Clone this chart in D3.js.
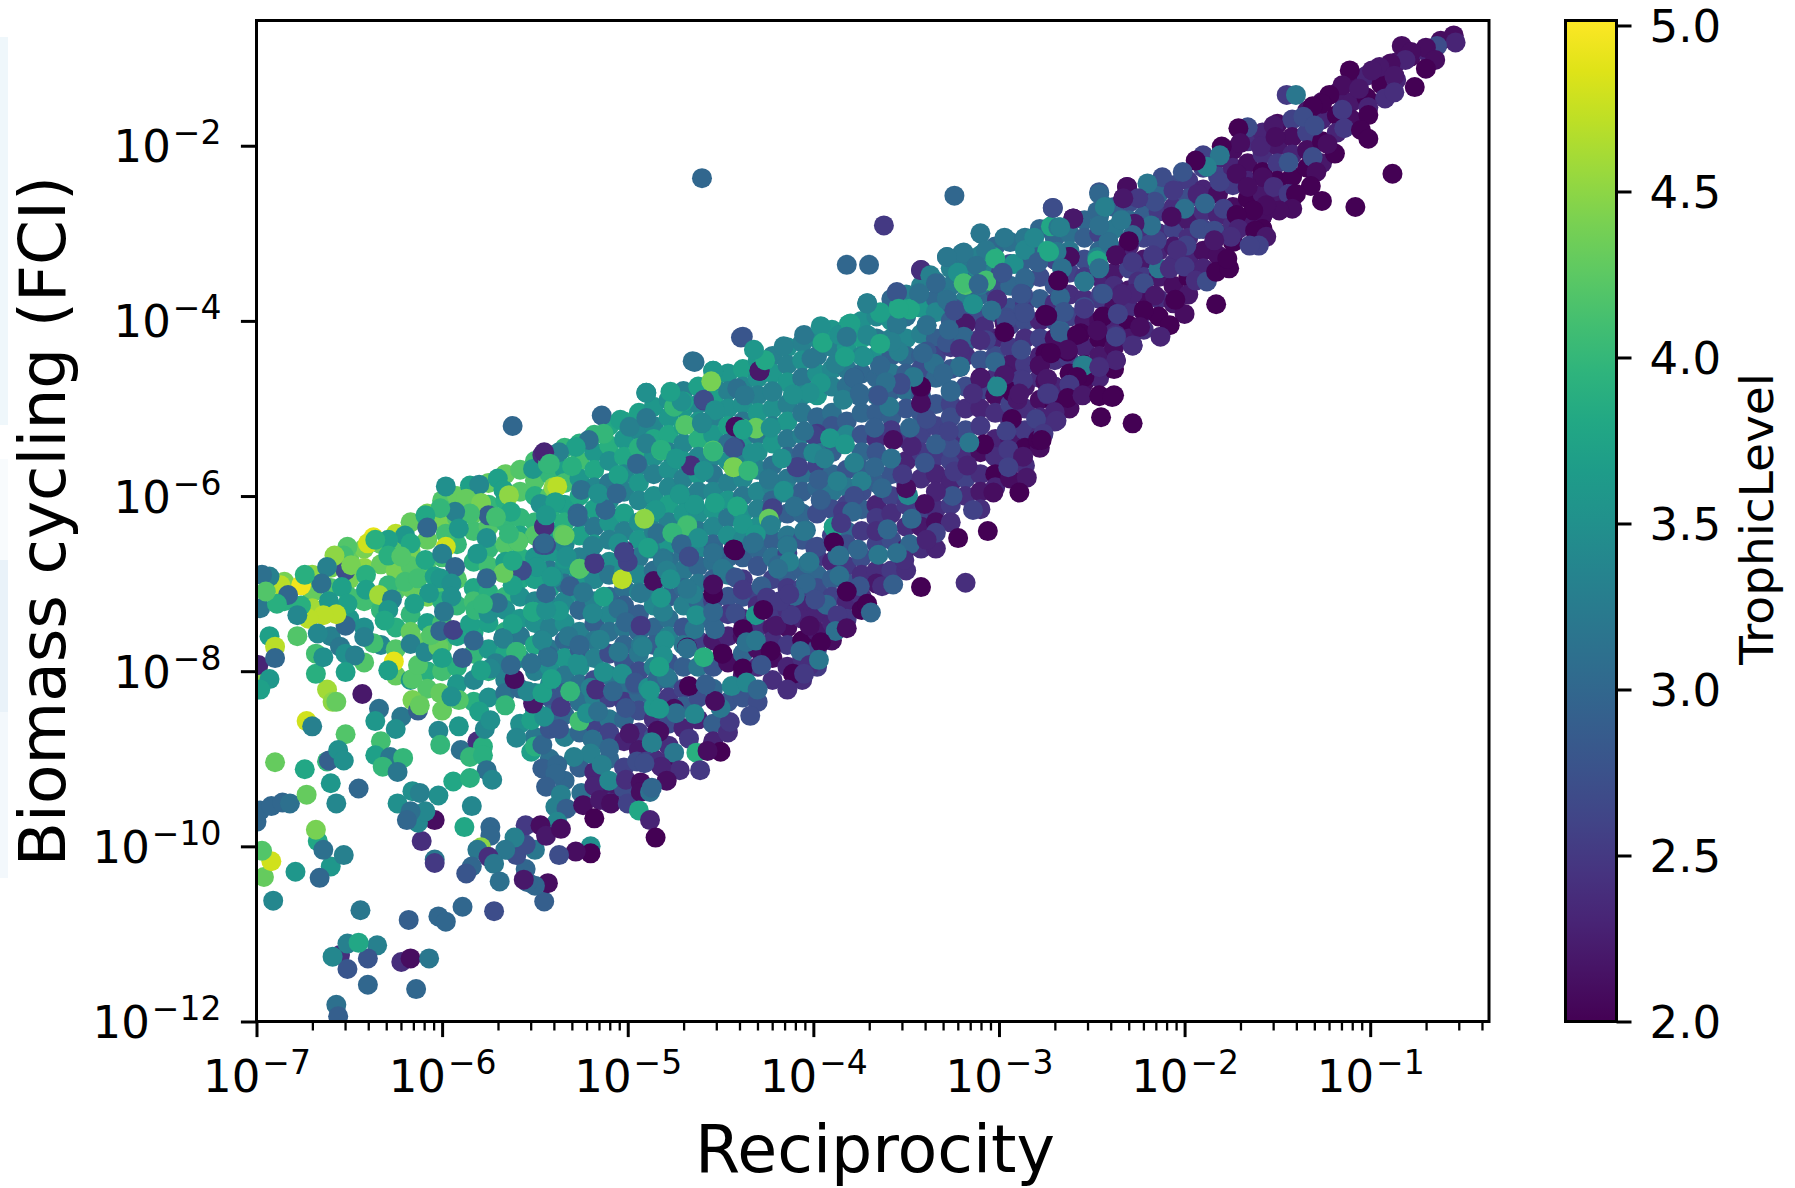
<!DOCTYPE html>
<html>
<head>
<meta charset="utf-8">
<title>Biomass cycling vs reciprocity</title>
<script src="https://cdnjs.cloudflare.com/ajax/libs/d3/7.8.5/d3.min.js"></script>
<style>
html, body { margin: 0; padding: 0; background: #fff; }
svg { display: block; }
text { font-family: "DejaVu Sans", sans-serif; fill: #000; }
</style>
</head>
<body>
<script>
// every point is [log10 reciprocity, log10 FCI, trophic level]
var lowerTail = [
[-6.57,-11.81,3.1],[-6.56,-11.94,2.9],[-6.40,-11.58,3.0],[-6.14,-11.63,3.0],[-6.55,-11.24,2.4],[-6.51,-11.40,2.8],[-6.59,-11.26,3.4],[-6.51,-11.11,3.3],[-6.35,-11.13,3.3],[-6.40,-11.28,2.8],[-6.45,-11.10,3.8],[-6.22,-11.32,2.4],[-6.17,-11.28,2.1],[-6.07,-11.28,3.2],
[-6.44,-10.73,3.2],[-6.18,-10.84,2.9],[-6.02,-10.80,3.0],[-5.98,-10.86,3.0],[-5.89,-10.69,3.0],[-5.72,-10.74,2.7],[-5.45,-10.63,2.9],[-6.91,-10.62,3.4],[-6.96,-10.35,4.3],[-6.92,-10.17,4.8],[-6.97,-10.05,4.2],[-6.79,-10.29,3.6],[-6.60,-10.23,3.6],[-6.66,-10.36,3.0],[-6.53,-10.10,3.3],[-6.67,-9.94,3.8],[-6.64,-10.04,3.1],[-6.68,-9.81,4.4],
[-7.00,-9.72,3.0],[-6.98,-9.59,3.0],[-6.92,-9.54,3.0],[-6.86,-9.50,3.0],[-6.82,-9.51,3.1],[-6.73,-9.41,4.3],[-6.57,-9.51,3.4],[-6.60,-9.28,3.6],[-6.45,-9.34,3.0],[-6.90,-9.04,4.3],[-6.74,-9.12,3.8],[-6.62,-9.03,4.0],[-6.61,-9.02,2.9],
[-6.43,-8.26,2.2],[-6.62,-8.21,4.6],[-6.59,-8.35,4.5],[-6.57,-8.35,4.3],[-6.34,-8.43,3.1],[-6.36,-8.57,3.6],[-6.22,-8.52,3.2],[-6.25,-8.66,3.5],[-6.73,-8.57,4.8],[-6.70,-8.63,3.3],[-6.52,-8.72,4.2],[-6.56,-8.90,3.5],[-6.53,-9.02,3.5],[-6.33,-8.80,4.1],[-6.36,-8.96,3.7],[-6.28,-8.98,3.2],[-6.21,-8.99,4.0],[-6.32,-9.09,4.0],[-6.24,-9.15,3.2],
[-6.16,-8.09,4.2],[-6.16,-8.33,4.4],[-6.13,-8.45,2.9],[-6.12,-8.39,4.3],[-6.01,-8.25,4.3],[-5.91,-8.33,4.2],[-5.95,-8.29,3.5],[-6.02,-8.68,3.4],[-6.01,-8.84,4.0],[-5.91,-8.63,3.6],[-5.90,-8.90,3.1],[-5.81,-8.80,2.4],[-5.78,-8.86,3.9],[-5.85,-8.98,4.0],[-5.78,-8.96,3.9],[-5.76,-9.13,3.1],[-5.94,-9.26,3.8],[-5.85,-9.22,3.9],[-5.73,-9.24,3.4],
[-5.80,-8.46,3.7],[-5.77,-8.66,3.4],[-5.66,-8.39,4.0],[-5.74,-8.56,3.5],[-5.60,-8.76,3.4],[-5.52,-8.56,3.7],[-5.52,-8.92,3.7],[-5.50,-8.86,3.9],[-5.46,-8.84,3.0],[-5.42,-8.66,2.8],[-5.37,-8.66,2.8],[-5.45,-8.52,3.5],[-5.36,-8.41,2.5],[-5.51,-8.37,2.2],[-5.54,-8.23,3.4],[-5.46,-8.25,3.7],[-5.61,-8.09,2.1],[-5.41,-8.09,3.7],[-5.31,-8.23,4.0],[-5.26,-8.57,4.1],[-5.22,-8.48,3.5],[-5.16,-8.46,3.1],[-5.20,-8.19,3.3],[-5.17,-8.21,2.4],[-5.08,-8.23,3.0],[-5.01,-8.42,2.8],[-4.96,-8.15,2.9],[-4.99,-8.71,2.2],[-4.84,-8.68,2.1],[-4.87,-8.82,3.3],
[-5.19,-8.78,3.1],[-5.10,-8.88,3.0],[-5.20,-8.94,3.3],[-5.14,-9.07,3.3],[-5.29,-8.98,3.3],[-5.46,-9.11,2.9],[-5.38,-9.07,3.0],[-5.39,-9.17,3.0],[-5.44,-9.32,2.9],[-5.36,-9.41,3.3],[-5.39,-9.55,3.3],[-5.33,-9.57,2.9],[-5.38,-9.72,3.4],[-5.25,-9.39,3.1],[-5.18,-9.31,2.3],[-5.24,-9.53,2.1],[-5.15,-9.47,2.2],[-5.09,-9.51,2.1],[-5.18,-9.68,2.0],[-5.10,-9.25,3.4],[-5.00,-9.51,2.6],[-5.01,-9.24,2.4],[-4.93,-9.27,2.1],[-4.93,-9.38,2.1],[-4.88,-9.38,3.1],[-4.94,-9.59,3.8],[-4.88,-9.70,2.3],[-4.85,-9.90,2.0],[-4.95,-9.03,2.7],[-4.90,-9.03,2.6],[-4.84,-9.03,2.4],
[-5.20,-10.00,3.5],[-5.20,-10.08,2.0],[-5.28,-10.06,2.1],[-5.37,-10.10,2.7],[-5.43,-10.42,2.1],[-5.50,-10.45,3.0],[-5.54,-10.41,3.0],[-5.55,-10.26,3.0],[-5.56,-10.38,2.2],[-5.50,-10.04,3.2],[-5.60,-10.10,2.7],[-5.55,-9.98,2.7],[-5.55,-9.76,2.5],[-5.47,-9.76,2.1],[-5.44,-9.88,2.2],[-5.36,-9.80,2.1],[-5.61,-9.90,3.3],[-5.66,-10.04,3.2],[-5.74,-9.78,3.0],[-5.74,-9.88,3.0],[-5.79,-10.01,4.5],[-5.81,-10.04,3.2],[-5.75,-10.12,2.4],[-5.72,-10.20,3.2],[-5.69,-10.40,3.1],[-5.84,-10.23,3.0],[-5.87,-10.31,2.8],[-5.88,-9.78,3.8],[-5.84,-9.54,3.4],[-6.02,-9.42,3.5],[-6.04,-9.70,2.1],[-6.11,-9.94,2.4],[-6.04,-10.15,3.2],[-6.04,-10.19,2.5],[-6.13,-9.73,3.4],[-6.09,-9.60,3.4],[-6.16,-9.37,3.5],[-6.12,-9.39,3.3],[-6.24,-9.51,3.5],[-6.17,-9.60,3.1],[-6.19,-9.70,3.0],
[-5.03,-6.95,4.7],[-5.18,-6.77,2.3],[-5.27,-6.20,3.0],[-5.12,-6.15,3.1],[-5.35,-6.44,4.2],[-5.45,-6.34,2.4],[-5.46,-6.56,2.8],[-5.59,-6.52,4.0],[-5.49,-6.81,3.5],[-5.26,-6.83,4.1],[-5.34,-6.72,3.6],[-5.40,-6.93,3.4],[-5.31,-7.03,2.9],[-5.24,-7.10,3.2],[-5.13,-7.15,3.7],[-5.19,-7.34,3.4],[-5.05,-7.29,3.1],[-5.01,-7.44,3.0],[-4.93,-7.48,2.5],[-5.05,-7.78,3.2],[-4.93,-7.70,3.2],[-5.02,-6.62,2.4],[-5.00,-6.75,2.6],[-4.93,-7.11,3.2],[-4.86,-6.97,2.1],[-5.13,-8.01,3.5],[-5.03,-8.03,3.5],[-4.96,-8.13,2.8],[-4.89,-8.19,3.5],[-5.27,-7.91,3.5],[-5.43,-7.82,3.0],[-5.52,-7.91,3.1],[-5.60,-7.78,4.1],[-5.67,-7.62,3.1],[-5.46,-7.64,3.3],[-5.51,-7.32,3.9],[-5.32,-7.60,3.2],[-5.26,-7.70,3.0],[-5.15,-7.64,3.3],[-5.37,-7.31,3.6],[-5.71,-7.91,3.3],[-5.74,-7.97,3.4],[-4.86,-8.41,3.6],[-4.84,-8.09,3.0]
];
var upperLeft = [
[-6.99,-8.01,4.5],[-6.99,-7.93,2.3],[-6.93,-8.09,3.6],[-6.98,-8.21,3.7],
[-5.98,-5.89,3.5],[-5.85,-5.88,3.7],[-5.80,-5.87,3.4],[-5.70,-5.80,3.7],[-5.67,-5.93,3.7],[-5.64,-5.99,4.5],[-5.87,-6.03,4.3],[-5.79,-6.08,4.4],[-5.51,-5.69,3.6],[-5.46,-5.53,2.4],[-5.43,-5.63,4.0],[-5.40,-5.90,4.5],[-5.47,-6.09,3.5],[-5.39,-6.07,3.5],[-5.44,-6.22,3.7],[-5.45,-6.35,2.4],[-5.44,-6.56,2.7],[-5.63,-6.18,3.8],[-5.75,-6.22,2.9],[-5.71,-6.24,4.1],[-5.85,-6.20,4.1],[-5.93,-6.18,3.3],[-6.01,-6.14,4.0],[-6.09,-6.22,3.8],[-6.08,-6.36,3.0],[-5.98,-6.43,4.1],[-5.91,-6.37,3.6],
[-6.37,-6.47,4.9],[-6.40,-6.54,4.8],[-6.25,-6.43,4.7],[-6.20,-6.45,3.6],[-6.17,-6.54,3.8],[-6.29,-6.50,3.7],[-6.36,-6.50,3.9],[-6.29,-6.68,3.9],[-6.22,-6.69,4.2],[-6.51,-6.58,4.2],[-6.53,-6.68,4.1],[-6.52,-6.85,2.7],[-6.49,-6.79,4.4],[-6.58,-6.68,4.5],[-6.62,-6.81,3.3],[-6.65,-7.00,3.1],[-6.76,-7.02,4.95],[-6.74,-6.90,3.9],[-6.54,-7.04,3.7],[-6.41,-6.90,3.9],[-6.41,-7.07,3.7],[-6.29,-7.02,4.0],[-6.20,-6.98,4.1],[-6.13,-6.94,4.1],[-6.09,-6.73,3.8],[-6.04,-6.92,3.7],[-5.98,-6.58,4.8],[-6.00,-6.66,3.3],[-5.93,-6.81,3.0],[-6.01,-6.94,3.6],[-5.95,-7.00,3.5],[-6.07,-7.11,3.6],[-5.95,-7.15,3.5],[-6.15,-7.23,3.7],[-6.34,-7.13,4.6],[-6.27,-7.18,3.3],[-6.29,-7.30,3.6],[-6.31,-7.42,3.8],[-6.51,-7.23,3.7],[-6.61,-7.20,3.6],[-6.52,-7.48,3.0],[-6.57,-7.35,4.7],[-6.64,-7.36,4.7],[-6.72,-7.40,4.7],[-6.76,-7.25,3.9],[-6.78,-7.36,3.4],[-6.67,-7.57,3.4],[-6.78,-7.60,4.2],[-6.93,-7.60,3.7],[-6.90,-7.72,4.7],[-6.90,-7.85,3.0],[-6.87,-7.02,4.7],[-6.93,-6.92,3.3],[-6.97,-6.90,3.1],[-6.98,-7.28,3.2],[-6.83,-7.13,3.0],[-6.89,-7.23,3.9],[-6.95,-7.09,4.2],
[-6.68,-8.03,3.9],[-6.68,-7.80,4.1],[-6.64,-7.84,3.5],[-6.55,-7.72,3.2],[-6.52,-7.80,3.5],[-6.47,-7.82,3.3],[-6.52,-8.01,3.7],[-6.37,-7.68,4.1],[-6.42,-7.61,3.3],[-6.17,-7.69,3.3],[-6.26,-7.89,4.9],[-6.29,-7.99,3.7],[-6.13,-7.93,4.2],[-6.09,-7.78,3.4],[-6.02,-7.72,4.3],[-6.06,-7.59,4.2],[-6.00,-7.85,3.7],[-6.01,-7.54,3.0],[-5.94,-7.53,2.6],[-5.99,-7.32,3.2],[-5.85,-7.46,3.7],[-5.82,-7.30,4.0],[-5.75,-7.34,3.5],[-5.70,-7.22,3.1],[-5.62,-7.46,3.7],[-5.67,-7.63,3.3],[-5.83,-7.65,3.0],[-5.60,-7.78,4.0],[-5.51,-7.32,3.8],[-5.44,-7.30,3.5],[-5.44,-7.11,3.0],[-5.49,-6.81,3.6],[-5.57,-6.85,2.7],[-5.62,-7.02,3.7],[-5.67,-6.88,4.3],[-5.62,-6.74,3.8],[-5.59,-6.52,4.2],[-5.64,-6.43,4.0],[-5.76,-6.48,3.5],[-5.81,-6.66,3.6],[-5.76,-6.94,3.0],[-5.78,-7.23,4.0],[-5.46,-7.65,3.4],[-5.43,-7.84,3.1],[-5.52,-7.91,3.1],[-5.63,-7.93,3.0],[-5.79,-7.99,3.7],[-5.89,-7.85,2.9],[-5.41,-6.92,3.6]
];
var midUpper = [
[-5.62,-5.20,3.0],[-4.60,-2.37,3.0],
[-4.64,-4.47,3.1],[-4.39,-4.19,2.8],[-4.54,-4.57,3.6],[-4.90,-4.82,3.5],[-5.14,-5.08,3.0],[-5.13,-5.29,4.0],[-5.21,-5.36,3.1],[-5.28,-5.44,3.7],[-5.37,-5.50,3.3],[-5.45,-5.50,2.3],[-5.42,-5.63,4.0],[-5.30,-5.66,3.9],[-5.04,-5.13,3.7],[-4.99,-5.21,3.3],[-4.90,-5.11,3.2],[-4.90,-5.40,3.3],[-4.75,-4.98,4.0],[-4.70,-4.92,3.7],[-4.59,-4.91,2.6],[-4.69,-5.19,4.2],[-4.60,-5.17,3.4],[-4.82,-5.48,4.0],[-4.95,-5.63,3.0],[-4.74,-5.57,3.5],[-4.66,-5.65,2.4],[-4.54,-5.48,4.2],[-4.42,-5.44,2.6],[-4.31,-5.22,4.3],[-4.38,-5.23,3.9],[-4.42,-5.21,2.1],[-4.29,-4.57,2.2],[-4.43,-5.67,4.5],[-4.35,-5.70,3.7],[-4.08,-5.67,2.6],[-3.98,-5.29,2.5],[-3.98,-5.51,3.2],[-4.24,-5.80,3.2],[-4.16,-5.96,3.3],[-4.41,-6.12,3.6],[-4.53,-6.08,3.6],[-4.64,-6.10,3.6],[-4.72,-5.97,3.4],[-4.85,-6.16,3.5],[-5.05,-5.76,3.7],[-5.12,-6.16,3.0],[-5.25,-5.93,3.1],[-5.16,-5.97,3.5],[-5.06,-5.97,3.0],[-5.38,-5.89,4.7],[-5.39,-6.07,3.7],[-5.44,-6.22,3.6],[-5.27,-6.24,3.0],[-5.34,-6.45,4.3],[-5.45,-6.54,3.0],[-5.05,-6.54,3.5],[-5.19,-6.57,3.3],[-5.33,-6.69,3.5],[-5.26,-6.83,4.2],[-5.18,-6.77,2.5],[-5.02,-6.64,2.6],[-4.88,-6.60,3.3],[-4.84,-6.43,3.1],[-4.74,-6.43,4.1],[-4.68,-6.33,4.0],[-4.62,-6.48,3.3],[-4.71,-6.55,3.0],[-4.67,-6.69,2.7],[-4.81,-6.71,3.2],[-4.53,-6.64,3.0],[-4.42,-6.62,2.0],[-4.33,-6.54,3.1],[-4.23,-6.33,3.4],[-4.22,-6.14,2.6],[-4.10,-6.12,3.1],[-4.14,-6.56,3.1],[-4.04,-6.39,3.1],[-3.96,-6.05,2.8],[-3.89,-6.54,2.0],[-3.98,-6.58,2.7],[-3.89,-6.35,3.5],[-3.87,-6.68,3.0],[-4.03,-6.77,3.1],[-4.19,-6.79,3.0]
];
var midBand = [
[-3.82,-3.36,3.0],[-3.70,-3.36,3.0],[-4.38,-4.18,2.8],[-4.65,-4.46,3.1],[-4.54,-4.57,3.6],[-4.29,-4.57,2.2],[-4.26,-4.45,3.8],[-4.32,-4.33,3.6],[-4.16,-4.29,3.3],[-4.05,-4.16,3.2],[-3.96,-4.06,3.5],[-3.95,-4.25,3.8],[-3.81,-4.04,3.7],[-3.86,-4.16,3.5],[-3.71,-3.80,3.3],[-3.64,-3.91,3.7],[-3.54,-3.84,3.8],[-3.48,-3.86,3.8],[-3.55,-3.67,2.8],[-3.55,-4.04,3.2],[-3.39,-4.05,3.2],[-3.42,-3.42,2.4],[-3.37,-3.49,3.3],[-3.43,-3.68,3.2],[-3.28,-3.27,3.1],[-3.20,-3.23,3.2],[-3.03,-3.27,3.8],[-3.22,-3.45,3.5],[-3.12,-3.39,3.4],[-3.18,-3.59,4.2],[-3.07,-3.55,4.1],[-3.10,-3.59,3.2],[-3.28,-3.74,3.2],[-3.14,-3.81,3.4],[-3.24,-3.86,2.8],[-2.99,-3.45,2.7],[-2.92,-3.35,3.5],[-2.79,-3.33,3.2],[-2.86,-3.51,3.0],[-3.01,-3.76,2.4],[-2.87,-3.70,2.7],[-2.97,-4.02,2.2],[-2.96,-3.96,2.7],[-2.87,-3.90,2.7],[-2.75,-3.94,2.0],[-3.08,-4.06,2.4],[-3.18,-4.04,2.4],[-3.19,-4.18,2.9],[-3.07,-4.22,2.6],[-3.39,-4.35,2.8],[-3.28,-4.25,2.8],[-3.35,-4.49,3.2],[-3.21,-4.53,2.9],[-3.26,-4.79,3.0],[-3.10,-4.65,2.1],[-2.97,-4.61,2.2],[-2.88,-4.67,2.5],[-3.01,-4.74,3.2],[-2.78,-4.51,2.1],[-2.72,-4.37,2.0],[-2.75,-4.69,2.1],[-2.93,-4.81,2.0],[-2.90,-4.90,2.2],[-2.74,-4.84,2.3],[-2.80,-5.12,2.6],[-2.93,-5.12,2.0],[-2.96,-5.26,2.6],[-3.08,-5.41,2.0],[-2.79,-5.36,2.0],[-2.95,-5.47,2.5],[-2.87,-5.55,2.2],[-2.95,-5.67,2.6],[-2.85,-5.79,2.2],[-2.89,-5.96,2.0],[-3.03,-5.96,2.1],[-3.14,-6.16,2.6],[-3.06,-6.40,2.0],[-3.22,-6.48,2.0],[-3.18,-6.99,2.4],[-3.42,-7.04,2.0],
[-3.25,-6.00,2.8],[-3.34,-5.95,2.3],[-3.40,-6.09,2.1],[-3.49,-5.99,3.4],[-3.63,-5.91,3.0],[-3.50,-5.91,2.1],[-3.52,-5.75,2.5],[-3.40,-5.62,2.8],[-3.24,-5.72,2.5],[-3.17,-5.65,2.3],[-3.26,-5.45,2.7],[-3.34,-5.41,2.9],[-3.16,-5.39,3.2],[-3.27,-5.26,2.6],[-3.47,-5.43,2.3],[-3.57,-5.36,2.1],[-3.48,-5.22,3.0],[-3.67,-5.22,2.9],[-3.59,-4.98,3.2],[-3.39,-5.12,2.7],[-3.42,-4.77,2.1],[-3.42,-4.94,2.1],[-3.53,-4.73,2.7],[-3.46,-4.65,3.2],[-3.78,-4.65,2.8],[-3.75,-4.86,3.0],[-3.84,-4.90,3.3],[-3.61,-4.71,3.1],[-3.64,-4.51,3.1],[-3.73,-4.41,3.4],[-3.88,-4.49,3.3],[-4.01,-4.43,3.2],[-3.96,-4.71,3.6],[-4.02,-4.82,3.5],[-4.11,-4.84,3.5],[-4.22,-4.81,3.3],[-4.41,-4.77,3.1],[-4.59,-4.90,2.7],[-4.71,-4.92,3.5],[-4.55,-4.69,4.4],[-4.77,-4.81,3.7],[-4.90,-4.82,3.5],[-4.37,-4.85,3.2],[-4.53,-5.02,3.5],[-4.60,-5.16,3.4],
[-4.31,-5.23,4.3],[-4.41,-5.21,2.1],[-4.38,-5.24,3.7],[-4.23,-5.22,3.5],[-4.00,-5.30,2.6],[-3.91,-5.34,3.6],[-3.83,-5.41,3.6],[-4.05,-5.26,3.1],[-4.43,-5.45,2.8],[-4.54,-5.49,4.0],[-4.33,-5.51,3.5],[-4.82,-5.47,3.9],[-4.74,-5.57,3.6],[-4.59,-5.71,3.5],[-4.43,-5.67,4.4],[-4.35,-5.71,4.0],[-4.24,-5.81,3.2],[-4.16,-5.94,3.5],[-4.09,-5.67,2.6],[-4.17,-5.57,3.5],[-4.00,-5.51,3.4],[-3.94,-5.57,3.3],[-3.78,-5.62,3.3],[-3.97,-5.81,2.9],[-3.87,-5.83,3.3],[-3.74,-5.83,3.3],[-3.67,-5.67,3.0],[-3.58,-5.57,3.1],[-3.78,-6.00,2.7],[-4.10,-6.12,3.1],[-3.96,-6.04,2.9],[-3.84,-6.18,2.5],[-3.79,-6.18,3.0],[-4.22,-6.15,2.6],[-4.24,-6.26,4.3],[-4.23,-6.33,3.3],[-4.41,-6.12,3.8],[-4.38,-6.32,3.6],[-4.53,-6.08,3.7],[-4.64,-6.10,3.6],[-4.72,-5.98,3.6],[-4.85,-6.16,3.6],[-4.91,-6.26,4.5],[-4.68,-6.34,4.1],[-4.76,-6.42,4.0],[-4.62,-6.48,3.5],[-4.71,-6.55,3.0],[-4.31,-6.44,3.6],[-4.32,-6.53,3.1],[-4.43,-6.61,2.0],[-4.54,-6.65,3.1],[-4.67,-6.69,2.7],[-4.89,-6.59,3.7],[-4.81,-6.73,3.2],[-4.79,-6.85,3.3],[-4.49,-6.83,3.2],[-4.42,-6.93,2.8],
[-4.14,-6.57,3.2],[-4.05,-6.40,3.2],[-3.89,-6.36,3.7],[-3.85,-6.31,2.5],[-3.99,-6.59,2.7],[-3.89,-6.53,2.0],[-3.86,-6.68,3.1],[-4.02,-6.75,3.2],[-4.13,-6.75,3.3],[-4.19,-6.83,3.1],[-3.76,-6.61,3.0],[-3.66,-6.40,2.4],[-3.60,-6.38,3.0],[-3.65,-6.67,3.2],[-3.47,-6.26,3.0],[-3.48,-6.55,3.0],[-3.34,-6.42,2.6],[-3.39,-6.50,2.3],[-3.51,-6.73,2.4],[-3.55,-6.65,3.1],[-3.75,-7.03,2.8],[-3.63,-7.03,2.4],[-3.57,-7.01,2.9],[-3.86,-6.91,3.1],[-3.93,-7.24,3.0],[-4.04,-7.00,3.0],[-4.10,-7.14,3.0],[-3.99,-7.18,2.7],[-3.82,-7.09,2.0],[-3.87,-7.36,2.5],[-3.88,-7.54,3.1],[-3.82,-7.51,2.1],[-3.71,-7.23,2.0],[-3.69,-7.33,3.0],
[-4.20,-7.48,2.2],[-4.12,-7.36,2.5],[-4.02,-7.48,2.1],[-3.96,-7.67,2.0],[-4.07,-7.77,3.0],[-4.02,-7.93,2.4],[-3.97,-7.87,3.2],[-4.11,-8.03,2.0],[-4.05,-8.03,2.5],[-4.14,-8.21,2.4],[-4.38,-7.07,2.5],[-4.28,-7.03,2.9],[-4.25,-7.16,2.5],[-4.18,-7.20,2.5],[-4.13,-7.12,2.5],[-4.31,-7.36,3.6],[-4.27,-7.30,2.0],[-4.42,-7.34,2.7],[-4.38,-7.52,2.0],[-4.36,-7.67,3.1],[-4.31,-7.65,3.2],[-4.49,-7.80,2.0],[-4.23,-7.77,2.0],[-4.38,-7.97,2.0],[-4.28,-7.93,2.8],[-4.44,-8.17,3.4],[-4.36,-8.13,3.4],[-4.30,-8.21,3.0],[-4.34,-8.51,2.7],[-4.45,-8.58,2.5],[-4.50,-8.42,3.2],[-4.53,-8.34,2.1],[-4.53,-7.52,3.0],[-4.64,-7.52,3.2],[-4.63,-7.36,3.5],[-4.54,-7.32,3.0],[-4.54,-7.12,2.0],[-4.54,-7.01,2.1],[-4.65,-7.12,3.3],[-4.68,-7.06,3.2],[-4.77,-6.95,3.5],[-4.81,-7.32,3.3],[-4.82,-7.16,3.6],[-4.68,-7.73,2.1],[-4.68,-7.74,3.1],[-4.59,-7.84,3.9],[-4.80,-7.65,3.5],[-4.81,-7.82,3.5],[-4.92,-7.72,3.3],[-4.79,-8.07,3.2],[-4.83,-7.95,3.7],[-4.67,-8.17,2.0],[-4.58,-8.15,2.9],[-4.75,-8.43,2.1],[-4.74,-8.48,3.1],[-4.64,-8.49,3.4],[-4.83,-8.43,3.6],[-4.88,-8.22,3.6],[-4.83,-8.69,2.1],[-4.67,-8.77,2.5],[-4.87,-8.81,3.3],[-4.75,-8.93,3.2],[-4.63,-8.93,3.9],[-4.50,-8.92,2.0],[-4.57,-8.91,2.1],[-4.72,-9.13,2.4],[-4.61,-9.13,2.5],[-4.82,-9.09,2.3],[-4.91,-9.05,2.7],[-4.79,-9.25,2.1],[-4.87,-9.33,3.0]
];
var upperMid = [
[-3.24,-2.57,3.0],[-3.62,-2.91,2.5],[-2.71,-2.71,2.7],[-2.60,-2.83,2.2],[-2.72,-2.92,3.8],[-2.68,-2.93,3.2],[-2.46,-2.53,2.8],[-2.31,-2.47,2.2],[-2.33,-2.60,2.2],[-2.43,-2.69,3.2],[-2.47,-2.75,3.0],[-2.34,-2.84,3.0],[-2.41,-3.10,3.1],[-2.30,-3.10,2.2],[-2.37,-3.25,2.0],[-2.46,-3.38,3.0],[-2.47,-3.27,3.3],[-2.24,-2.93,2.4],
[-3.10,-3.00,3.2],[-2.97,-3.05,3.2],[-3.07,-3.19,3.2],[-3.02,-3.29,3.9],[-3.19,-3.22,3.2],[-3.28,-3.27,3.2],[-3.42,-3.42,2.4],[-3.22,-3.45,3.5],[-3.12,-3.37,3.1],[-3.07,-3.54,4.1],[-3.19,-3.57,4.1],[-3.11,-3.58,3.0],[-2.98,-3.45,2.8],[-3.37,-3.48,3.3],[-3.34,-3.57,3.0],[-2.86,-3.19,3.4],[-2.81,-3.05,3.4],[-2.74,-3.20,3.8],[-2.69,-3.21,3.0],[-2.62,-3.27,2.0],[-2.79,-3.33,2.9],[-2.66,-3.39,3.0],[-2.68,-3.54,2.0],[-2.54,-3.55,2.9],[-2.88,-3.69,2.8],[-3.01,-3.76,2.4],[-3.14,-3.81,3.5],[-3.28,-3.76,3.1],[-3.43,-3.69,3.1],[-3.55,-3.68,2.8],[-2.67,-3.73,3.0],[-2.45,-3.69,2.6],[-2.34,-3.69,2.3],[-2.25,-3.55,2.4],[-2.54,-3.84,2.7],[-2.75,-3.93,2.0],[-2.65,-3.90,2.7],[-2.86,-3.91,2.7],[-2.96,-3.99,2.7],[-3.04,-3.88,3.1],[-3.18,-4.03,2.2],[-3.24,-3.88,2.7],[-3.39,-4.05,3.1],[-3.55,-4.03,3.2],[-3.64,-3.90,3.7],[-3.48,-3.87,3.8],[-3.54,-3.86,3.8],[-3.80,-4.03,3.7],[-3.71,-3.80,3.3],[-2.97,-4.13,2.0],[-2.67,-4.11,3.0],[-2.36,-3.92,2.6],[-2.28,-3.69,2.3],[-2.44,-3.95,2.0],[-2.56,-4.14,2.0],[-2.37,-4.16,2.4],[-2.28,-4.28,2.3],[-2.75,-4.37,2.0],[-2.63,-4.35,2.0],[-2.88,-4.33,2.7],[-3.02,-4.47,3.0],[-3.19,-4.18,3.0],[-3.10,-4.22,2.4],[-3.27,-4.10,3.0],[-3.21,-4.32,2.4],[-3.35,-4.49,3.1],[-3.21,-4.52,3.1],[-3.41,-4.37,3.0],[-3.54,-4.35,3.3],[-3.58,-4.24,3.3],[-3.64,-4.51,3.0],[-3.71,-4.16,3.4],[-3.82,-4.18,3.2],[-3.64,-4.26,3.8],[-3.73,-4.41,3.5],[-3.83,-4.41,3.7],
[-2.55,-4.51,3.2],[-2.37,-4.45,2.1],[-2.46,-4.52,2.3],[-2.78,-4.51,2.1],[-2.97,-4.62,2.2],[-2.87,-4.68,2.5],[-3.10,-4.66,2.2],[-2.74,-4.66,2.2],[-2.62,-4.73,2.5],[-2.54,-4.64,2.0],[-3.30,-4.60,3.0],[-3.42,-4.75,2.0],[-3.46,-4.64,3.2],[-3.53,-4.71,2.7],[-3.61,-4.70,3.1],[-3.78,-4.65,3.0],[-3.26,-4.81,3.0],[-3.01,-4.75,3.4],[-3.14,-4.83,2.4],[-2.74,-4.83,2.5],[-2.89,-4.83,2.2],[-2.46,-4.85,2.0],[-2.38,-4.85,2.0],[-3.75,-4.83,3.0],[-3.65,-4.85,2.8]
];
var topRight = [
[-0.55,-0.74,2.1],[-0.54,-0.82,2.3],[-0.64,-0.86,2.7],[-0.70,-0.88,2.1],[-0.83,-0.86,2.1],[-0.78,-0.93,2.1],[-0.65,-1.02,2.1],[-0.70,-1.12,2.0],[-0.76,-1.33,2.0],[-0.81,-1.02,2.3],[-0.89,-1.06,2.1],[-0.95,-1.10,2.2],[-0.99,-1.14,2.2],[-0.87,-1.20,2.2],[-0.92,-1.46,2.4],[-0.87,-1.39,2.4],[-1.11,-1.14,2.0],[-1.15,-1.31,2.1],[-1.06,-1.35,2.2],[-1.01,-1.56,2.3],[-1.01,-1.65,2.0],[-1.15,-1.59,2.5],[-1.22,-1.42,2.0],[-1.26,-1.52,2.0],[-1.31,-1.55,2.0],[-1.36,-1.67,2.7],[-1.30,-1.77,2.7],[-1.14,-1.80,2.5],[-1.05,-1.82,2.0],[-1.01,-1.92,2.0],[-1.45,-1.42,2.5],[-1.40,-1.42,3.2],[-1.19,-2.09,2.0],[-1.31,-2.13,2.7],[-1.44,-2.19,2.8],[-1.23,-1.98,2.1],[-1.29,-2.30,2.1],[-1.32,-2.46,2.0],[-1.26,-2.63,2.0],[-1.08,-2.70,2.0],[-0.88,-2.32,2.0],[-1.52,-1.77,2.2],[-1.66,-1.79,2.7],[-1.71,-1.80,2.0],[-1.70,-1.97,2.1],[-1.59,-2.01,2.3],[-1.51,-1.90,2.1],[-1.80,-2.01,2.0],[-1.90,-2.11,2.6],[-1.81,-2.11,3.2],[-1.88,-2.24,3.3],[-1.94,-2.17,2.0],[-2.01,-2.30,2.8],[-2.12,-2.36,2.7],[-2.20,-2.43,3.2],[-2.31,-2.47,2.1],[-2.46,-2.55,3.0],[-2.43,-2.70,3.3],[-2.71,-2.71,2.7],[-2.60,-2.83,2.2],
[-1.81,-2.41,2.6],[-1.72,-2.32,2.1],[-1.58,-2.36,2.1],[-1.52,-2.47,2.4],[-1.44,-2.55,2.5],[-1.40,-2.55,2.0],[-1.42,-2.72,2.1],[-1.49,-2.74,2.1],[-1.56,-2.68,2.1],[-1.63,-2.74,2.0],[-1.66,-2.47,2.1],[-1.79,-2.72,2.6],[-1.72,-2.79,2.0],[-1.93,-2.55,2.3],[-2.06,-2.51,2.5],[-1.89,-2.66,3.0],[-2.00,-2.72,3.1],[-2.07,-2.81,2.1],[-2.16,-2.64,2.7],[-2.25,-2.60,2.5],[-2.33,-2.60,2.2],[-1.92,-2.95,2.7],[-1.84,-2.97,2.7],[-1.71,-2.95,2.3],[-1.62,-2.97,2.0],[-1.56,-3.04,2.2],[-1.60,-3.14,2.6],[-1.65,-3.14,2.6],[-1.75,-3.04,2.4],[-1.84,-3.08,2.2],[-1.99,-3.14,2.6],[-2.04,-3.19,2.4],[-2.15,-3.08,2.6],[-2.18,-2.91,3.1],[-2.27,-2.89,2.2],[-2.28,-3.02,3.0],[-2.34,-2.85,3.2],[-2.41,-3.10,3.1],[-2.30,-3.09,2.0],[-2.46,-2.91,3.1],[-2.37,-3.25,2.1],[-2.47,-3.31,3.8],[-2.46,-3.40,3.1],[-2.62,-3.27,2.1],[-2.67,-2.93,3.3],[-2.69,-3.21,3.2],[-2.73,-3.21,3.8],[-2.66,-3.40,3.1],[-2.54,-3.55,3.2],[-2.68,-3.54,2.0],[-2.14,-3.40,3.2],[-2.22,-3.57,2.7],[-2.17,-3.25,2.5],[-2.28,-3.33,2.5],[-2.08,-3.40,2.4],[-2.00,-3.38,2.5],[-1.94,-3.54,2.4],[-1.88,-3.55,2.7],[-1.83,-3.44,2.0],[-1.76,-3.40,2.0],[-1.77,-3.29,2.0],[-1.83,-3.81,2.0],[-2.00,-3.92,2.1],[-2.05,-3.76,2.0],[-2.16,-3.71,2.2],[-2.34,-3.71,2.3],[-2.44,-3.69,2.8],[-2.22,-3.88,2.0],[-2.36,-3.92,2.6],[-2.54,-3.86,2.5],[-2.65,-3.90,2.8],[-2.74,-3.94,2.0],[-2.08,-4.05,2.0],[-2.13,-4.18,2.3],[-2.24,-4.07,2.1],[-2.28,-4.28,2.4],[-2.37,-4.18,2.6],[-2.47,-4.11,2.1],[-2.67,-4.13,2.9],[-2.58,-4.16,2.0],[-2.37,-4.45,2.3],[-2.54,-4.51,3.3],[-2.63,-4.33,2.1],[-2.72,-4.37,2.0],[-2.46,-4.53,2.4],[-2.58,-4.64,2.0],[-2.62,-4.73,2.5],[-2.73,-4.83,2.5],[-2.63,-4.88,2.0],[-2.55,-4.85,2.2],[-2.46,-4.86,2.0],[-2.39,-4.87,2.0],[-2.45,-5.10,2.0],[-2.28,-5.17,2.0],[-2.70,-5.04,2.3],[-2.69,-5.14,2.4],[-2.76,-5.29,2.5],[-2.77,-5.36,2.0]
];

// the packed body of the cloud, column by column: [log10 reciprocity, [log10 FCI, trophic level, ...]]
var packedLeft = [
[-6.85,[-6.98,4.4,-7.2,3.9]],
[-6.7,[-6.9,4.5,-7.1,4.3,-7.28,4.6]],
[-6.6,[-6.82,4.4,-7.05,4.2,-7.3,3.9,-7.6,3.3]],
[-6.5,[-6.72,4.3,-6.95,4.4,-7.15,4.1,-7.4,3.6]],
[-6.42,[-6.6,4.4,-6.82,4.5,-7.2,4.1,-7.5,3.5,-7.9,4.2]],
[-6.33,[-6.55,4.3,-6.78,4.3,-7.3,4.0,-7.7,3.4]],
[-6.25,[-6.5,4.2,-6.85,4.4,-7.08,4.2,-7.5,3.9,-7.75,4.2,-8.05,4.3]],
[-6.17,[-6.3,4.3,-6.62,4.4,-6.8,4.2,-7.05,4.3,-7.35,4.0,-7.55,4.3,-8.1,3.6]],
[-6.08,[-6.2,4.4,-6.5,4.3,-6.85,4.2,-7.15,4.4,-7.45,3.7,-7.65,4.3,-8.0,3.9,-8.2,4.2]],
[-6.0,[-6.05,4.2,-6.3,4.4,-6.7,4.1,-7.05,4.2,-7.2,3.9,-7.45,4.1,-7.7,4.2,-8.0,4.1,-8.45,4.3]],
[-5.92,[-6.0,4.3,-6.25,4.2,-6.55,4.0,-6.95,4.2,-7.25,4.0,-7.6,3.7,-7.95,3.9,-8.15,3.6]],
[-5.83,[-5.95,4.2,-6.2,4.3,-6.4,4.1,-6.75,3.9,-7.05,3.8,-7.2,4.1,-7.55,3.8,-7.8,4.0,-8.1,3.4,-8.35,3.9]],
[-5.75,[-5.85,4.3,-6.1,4.0,-6.35,4.2,-6.6,4.0,-6.8,4.1,-7.1,3.9,-7.45,3.7,-7.75,3.6,-8.0,3.9,-8.3,3.5]],
[-5.66,[-5.75,4.3,-6.05,3.9,-6.3,4.0,-6.55,4.2,-6.75,3.7,-7.15,4.0,-7.3,3.5,-7.55,3.9,-7.8,3.8,-8.1,3.3,-8.25,3.1]],
[-5.58,[-5.7,4.2,-5.95,4.2,-6.25,4.0,-6.45,3.8,-6.7,3.9,-6.95,3.8,-7.15,3.5,-7.4,3.6,-7.6,3.2,-7.85,3.5,-8.2,3.0,-8.6,3.5]],
[-5.5,[-5.6,4.1,-5.82,4.2,-6.0,3.9,-6.3,4.0,-6.45,4.2,-6.7,3.6,-6.95,3.7,-7.2,3.4,-7.45,3.5,-7.7,3.8,-8.0,3.3,-8.25,3.4,-8.45,3.5,-8.75,3.2]],
[-5.42,[-5.55,4.2,-5.75,4.0,-6.0,4.2,-6.2,3.9,-6.4,3.7,-6.65,3.6,-6.85,3.2,-7.05,3.7,-7.25,3.4,-7.5,3.3,-7.75,3.2,-7.95,3.5,-8.15,3.4,-8.3,2.8,-8.5,3.0,-9.0,3.1]],
[-5.34,[-5.45,4.0,-5.7,3.7,-5.85,4.1,-6.1,3.7,-6.3,3.9,-6.55,3.4,-6.8,3.5,-7.0,3.1,-7.2,3.4,-7.45,3.5,-7.65,3.0,-7.85,3.6,-8.05,3.2,-8.25,2.8,-8.5,3.0,-8.75,3.3,-9.25,3.0]],
[-5.26,[-5.4,3.9,-5.6,4.1,-5.8,3.6,-6.0,3.8,-6.25,3.4,-6.45,3.7,-6.7,3.3,-6.9,3.6,-7.1,3.5,-7.3,3.0,-7.55,3.3,-7.75,2.9,-7.95,3.5,-8.15,3.1,-8.35,3.1,-8.7,3.0,-9.1,2.9]],
[-5.18,[-5.3,4.0,-5.5,3.6,-5.7,3.8,-5.9,3.4,-6.15,3.7,-6.35,3.2,-6.55,3.6,-6.75,3.0,-6.95,3.4,-7.2,3.3,-7.45,2.9,-7.65,3.2,-7.85,3.3,-8.1,2.7,-8.3,3.3,-8.6,2.6,-8.8,3.2,-9.15,2.3]],
[-5.1,[-5.2,3.8,-5.42,3.9,-5.6,3.5,-5.85,3.2,-6.05,3.5,-6.3,3.6,-6.5,3.3,-6.75,3.5,-6.9,3.2,-7.15,3.0,-7.35,3.4,-7.55,3.1,-7.8,2.7,-8.05,3.2,-8.3,2.6,-8.55,3.2,-8.7,2.6,-9.0,3.0,-9.35,2.2,-9.5,2.4]],
[-5.02,[-5.15,3.9,-5.35,3.6,-5.55,3.8,-5.75,3.4,-5.95,3.3,-6.2,3.7,-6.4,3.3,-6.65,3.2,-6.85,3.5,-7.05,3.1,-7.25,2.9,-7.5,3.2,-7.7,3.0,-7.9,2.8,-8.15,3.1,-8.35,2.5,-8.55,3.0,-8.8,2.3,-9.1,2.6,-9.35,2.7]]
];
var packedMiddle = [
[-4.94,[-5.05,3.7,-5.25,3.4,-5.45,3.9,-5.65,3.3,-5.85,3.6,-6.05,3.4,-6.3,3.5,-6.5,3.6,-6.7,3.2,-6.9,3.4,-7.1,3.3,-7.35,2.9,-7.55,3.0,-7.8,3.2,-8.0,2.7,-8.25,3.0,-8.45,2.7,-8.7,2.5,-8.9,2.2]],
[-4.86,[-4.98,3.6,-5.2,3.4,-5.35,3.8,-5.55,3.5,-5.75,3.3,-6.0,3.5,-6.2,3.6,-6.4,3.3,-6.6,3.5,-6.85,3.1,-7.05,3.3,-7.25,3.4,-7.5,3.0,-7.7,2.9,-7.95,3.3,-8.15,2.6,-8.35,3.1,-8.55,2.4,-8.75,2.8,-9.0,2.3]],
[-4.78,[-4.9,3.5,-5.1,3.6,-5.3,3.8,-5.5,3.3,-5.7,3.5,-5.9,3.4,-6.1,3.7,-6.3,3.3,-6.55,3.6,-6.75,3.1,-6.95,3.4,-7.15,2.9,-7.4,3.1,-7.6,3.3,-7.9,2.8,-8.1,3.0,-8.3,2.5,-8.6,2.7,-8.85,2.4,-9.05,2.1]],
[-4.70,[-4.8,3.3,-5.0,3.6,-5.2,3.7,-5.4,3.4,-5.6,3.6,-5.8,3.3,-6.0,3.5,-6.2,3.6,-6.4,3.4,-6.65,3.1,-6.85,3.2,-7.05,3.0,-7.25,3.3,-7.5,2.8,-7.7,3.2,-7.95,2.9,-8.2,2.6,-8.4,2.9,-8.65,2.3]],
[-4.62,[-4.75,3.7,-4.95,3.4,-5.15,3.6,-5.35,3.9,-5.55,3.4,-5.75,3.6,-5.95,3.3,-6.2,3.5,-6.4,3.2,-6.6,3.4,-6.8,3.0,-7.0,3.2,-7.2,3.0,-7.4,3.1,-7.65,2.6,-7.95,3.2,-8.3,2.7,-8.55,2.3]],
[-4.54,[-4.7,3.5,-4.9,3.7,-5.1,3.3,-5.3,3.6,-5.55,3.4,-5.75,3.2,-5.95,3.4,-6.15,3.6,-6.35,3.4,-6.55,3.0,-6.75,3.1,-6.95,2.9,-7.2,2.6,-7.45,3.0,-7.65,2.2,-7.95,2.8,-8.2,3.0,-8.6,2.9,-8.8,2.3]],
[-4.46,[-4.6,3.6,-4.8,3.3,-5.0,3.5,-5.2,3.7,-5.4,3.1,-5.6,3.5,-5.85,3.3,-6.05,3.6,-6.25,3.2,-6.45,3.5,-6.7,3.0,-6.9,3.2,-7.15,2.8,-7.35,2.5,-7.6,2.3,-7.9,2.1,-8.35,2.8,-8.7,2.4]],
[-4.38,[-4.55,3.7,-4.75,3.4,-4.95,3.5,-5.15,3.2,-5.35,3.6,-5.6,3.3,-5.8,3.4,-6.0,3.2,-6.2,3.5,-6.5,3.4,-6.7,2.9,-6.95,2.5,-7.15,2.8,-7.4,2.4,-7.6,2.1,-7.8,3.0,-8.05,2.2,-8.3,2.8]],
[-4.30,[-4.45,3.6,-4.65,3.5,-4.85,3.3,-5.05,3.6,-5.3,3.2,-5.5,3.5,-5.7,3.3,-5.95,3.4,-6.15,3.3,-6.35,3.5,-6.6,3.0,-6.8,2.8,-7.1,2.6,-7.25,2.4,-7.5,2.4,-7.75,2.1,-7.95,2.4,-8.35,2.7]],
[-4.22,[-4.4,3.3,-4.6,3.6,-4.8,3.4,-5.0,3.5,-5.2,3.3,-5.4,3.6,-5.65,3.1,-5.9,3.3,-6.05,3.0,-6.25,3.2,-6.5,2.9,-6.7,3.1,-6.95,2.6,-7.3,2.5,-7.5,2.2,-7.65,2.4,-7.85,2.1,-8.1,2.4]],
[-4.14,[-4.3,3.5,-4.5,3.3,-4.7,3.6,-4.95,3.3,-5.15,3.6,-5.35,3.2,-5.55,3.0,-5.8,3.2,-5.95,3.3,-6.2,2.9,-6.45,3.2,-6.65,2.6,-6.9,2.9,-7.05,2.5,-7.3,2.4,-7.5,2.1,-7.7,2.5,-7.95,2.3]],
[-4.06,[-4.25,3.3,-4.45,3.5,-4.65,3.2,-4.85,3.4,-5.05,3.2,-5.3,3.3,-5.5,2.9,-5.75,3.1,-5.95,2.9,-6.2,3.0,-6.5,2.8,-6.85,2.9,-7.05,2.6,-7.25,2.3,-7.4,2.3,-7.65,2.0,-7.85,2.4,-8.1,2.4]],
[-3.98,[-4.2,3.4,-4.4,3.2,-4.6,3.5,-4.85,3.6,-5.1,3.0,-5.45,3.3,-5.65,2.6,-5.9,3.0,-6.2,2.7,-6.7,2.5,-6.9,3.0,-7.05,2.7,-7.35,2.3,-7.55,2.2,-7.75,2.7,-7.95,2.5]],
[-3.9,[-4.1,3.6,-4.3,3.3,-4.55,3.4,-4.75,3.3,-5.05,3.1,-5.2,2.8,-5.5,2.9,-5.75,3.0,-5.95,3.2,-6.15,2.7,-6.45,2.6,-6.75,2.3,-6.95,2.9,-7.15,2.6,-7.45,2.3,-7.65,2.1]],
[-3.82,[-4.1,3.3,-4.3,3.6,-4.55,3.2,-4.75,3.1,-5.15,2.9,-5.3,3.4,-5.7,2.8,-5.9,3.2,-6.1,2.6,-6.4,3.0,-6.55,2.7,-6.8,2.5,-7.0,2.8,-7.2,2.3,-7.4,2.5]],
[-3.74,[-4.0,3.5,-4.2,3.7,-4.4,3.4,-4.6,3.0,-5.05,3.0,-5.3,2.8,-5.5,3.0,-5.7,2.9,-5.95,2.7,-6.15,2.9,-6.4,2.5,-6.7,2.7,-6.9,2.4,-7.15,2.4,-7.3,2.0]],
[-3.66,[-3.95,3.4,-4.2,3.2,-4.4,3.5,-4.65,3.0,-4.85,3.1,-5.05,2.9,-5.35,2.4,-5.5,2.8,-5.85,2.9,-6.1,2.3,-6.25,2.5,-6.55,2.6,-6.85,2.4,-7.0,2.2]],
[-3.58,[-3.75,3.0,-4.0,3.5,-4.2,3.3,-4.4,2.9,-4.6,3.2,-4.8,2.9,-5.1,2.9,-5.25,2.5,-5.75,2.8,-6.0,2.6,-6.2,2.4,-6.5,2.7,-6.85,2.5]],
[-3.5,[-3.7,3.3,-3.95,3.1,-4.2,3.4,-4.4,3.0,-4.6,2.9,-4.8,3.1,-5.0,2.8,-5.35,2.5,-5.6,2.3,-5.85,2.7,-6.1,2.5,-6.35,2.4,-6.6,2.2,-6.85,2.4]],
[-3.42,[-3.6,3.3,-3.85,3.6,-4.15,3.3,-4.4,2.9,-4.55,2.7,-4.85,2.9,-5.05,2.8,-5.3,2.6,-5.5,2.5,-5.8,2.4,-6.2,2.6,-6.35,2.2,-6.6,2.4]],
[-3.34,[-3.55,3.2,-3.75,3.0,-3.9,3.4,-4.2,2.9,-4.4,2.6,-4.65,3.0,-4.95,2.8,-5.2,2.6,-5.55,2.5,-5.75,2.3,-6.15,2.4,-6.3,2.1,-6.6,2.3]],
[-3.26,[-3.4,3.3,-3.6,3.2,-3.8,3.0,-4.0,2.9,-4.3,2.5,-4.55,2.8,-4.95,2.6,-5.1,2.7,-5.35,2.4,-5.6,2.6,-5.85,2.3,-6.1,2.5,-6.3,2.4]],
[-3.18,[-3.3,3.2,-3.5,3.0,-3.75,3.3,-3.95,2.8,-4.25,2.9,-4.4,2.4,-4.75,2.7,-5.0,2.4,-5.25,2.7,-5.5,2.4,-5.8,2.6,-6.0,2.4]],
[-3.1,[-3.25,3.3,-3.45,3.1,-3.7,3.0,-3.95,2.7,-4.2,2.5,-4.45,2.8,-4.8,2.6,-5.0,2.3,-5.2,2.5,-5.5,2.1,-5.75,2.4,-5.95,2.2,-6.15,2.4]],
[-3.02,[-3.15,3.0,-3.4,3.3,-3.65,2.7,-3.9,2.9,-4.2,2.3,-4.4,2.7,-4.65,2.4,-4.85,2.1,-5.05,2.4,-5.35,2.3,-5.55,2.4,-5.75,2.0,-5.9,2.3]]
];
var packedRight = [
[-2.94,[-3.1,3.1,-3.35,2.7,-3.6,3.0,-3.85,2.8,-4.05,2.6,-4.3,2.5,-4.5,2.2,-4.95,2.6,-5.15,2.4,-5.35,2.2,-5.6,2.4,-5.8,2.1]],
[-2.86,[-3.05,3.2,-3.3,2.9,-3.55,3.0,-3.8,2.5,-4.0,2.7,-4.2,2.4,-4.5,2.5,-4.75,2.2,-5.0,2.4,-5.25,2.5,-5.45,2.0,-5.65,2.4]],
[-2.78,[-2.95,3.0,-3.2,2.9,-3.5,2.7,-3.75,2.9,-4.0,2.3,-4.2,2.6,-4.4,2.3,-4.65,2.4,-4.9,2.1,-5.1,2.3,-5.3,2.4,-5.45,2.1]],
[-2.7,[-3.05,3.0,-3.3,2.6,-3.6,2.8,-3.8,2.4,-4.0,2.7,-4.2,2.1,-4.45,2.4,-4.75,2.3,-4.95,2.0,-5.15,2.4]],
[-2.62,[-3.0,3.1,-3.2,3.2,-3.45,2.6,-3.7,2.4,-3.95,2.6,-4.2,2.4,-4.45,2.5,-4.6,2.0,-4.85,2.3,-5.0,2.1]],
[-2.54,[-2.85,3.0,-3.05,2.9,-3.3,2.7,-3.5,2.5,-3.75,2.4,-4.0,2.2,-4.3,2.3,-4.5,2.0,-4.7,2.1]],
[-2.46,[-2.8,3.1,-3.0,2.6,-3.2,3.0,-3.5,2.3,-3.75,2.5,-4.0,2.1,-4.2,2.0,-4.4,2.2,-4.65,2.3]],
[-2.38,[-2.7,2.9,-2.95,3.2,-3.2,2.6,-3.45,2.2,-3.6,2.4,-3.85,2.1,-4.05,2.3,-4.3,2.1,-4.55,2.0]],
[-2.3,[-2.65,2.7,-2.85,3.0,-3.15,2.3,-3.4,2.6,-3.65,2.2,-3.85,2.4,-4.05,2.0,-4.2,2.2]],
[-2.22,[-2.6,2.4,-2.8,2.9,-3.05,2.6,-3.3,2.2,-3.5,2.5,-3.7,2.1,-3.9,2.2,-4.1,2.4]],
[-2.14,[-2.55,3.0,-2.75,2.5,-3.0,2.4,-3.2,2.3,-3.5,2.2,-3.75,2.4,-3.95,2.0]],
[-2.06,[-2.45,2.7,-2.7,2.4,-2.95,2.6,-3.15,2.2,-3.35,2.4,-3.6,2.1,-3.8,2.2]],
[-1.98,[-2.4,2.5,-2.6,2.7,-2.85,2.2,-3.05,2.4,-3.3,2.3,-3.5,2.0,-3.7,2.2]],
[-1.9,[-2.25,2.6,-2.5,2.3,-2.75,2.4,-2.95,2.6,-3.2,2.1,-3.4,2.3]],
[-1.82,[-2.15,2.3,-2.35,2.6,-2.55,2.1,-2.8,2.3,-3.0,2.0,-3.25,2.1]],
[-1.74,[-2.05,2.1,-2.25,2.3,-2.45,2.5,-2.7,2.1,-2.9,2.4,-3.1,2.0]],
[-1.66,[-1.95,2.4,-2.2,2.1,-2.4,2.3,-2.6,2.0,-2.85,2.2]],
[-1.58,[-1.85,2.3,-2.1,2.4,-2.3,2.0,-2.55,2.2,-2.8,2.1,-2.95,2.0]],
[-1.5,[-1.75,2.1,-2.0,2.2,-2.2,2.5,-2.4,2.0,-2.65,2.2]],
[-1.42,[-1.7,2.6,-1.9,2.1,-2.1,2.3,-2.35,2.0,-2.6,2.1]],
[-1.34,[-1.6,2.2,-1.85,2.6,-2.05,2.1,-2.25,2.0]],
[-1.26,[-1.5,2.1,-1.7,2.3,-1.95,2.0,-2.2,2.2]],
[-1.18,[-1.4,2.2,-1.65,2.0,-1.85,2.3]],
[-1.1,[-1.25,2.1,-1.5,2.2,-1.7,2.1]],
[-1.02,[-1.2,2.3,-1.45,2.0]],
[-0.94,[-1.15,2.2,-1.3,2.0]],
[-0.86,[-1.05,2.2,-1.25,2.3]],
[-0.78,[-0.98,2.1]],
[-0.7,[-0.92,2.3]],
[-0.62,[-0.8,2.1]]
];

var xDecades = [-7, -6, -5, -4, -3, -2, -1];
var yDecades = [-12, -10, -8, -6, -4, -2];
var colorTicks = [2, 2.5, 3, 3.5, 4, 4.5, 5];

// columns go underneath, the points read one by one from the top layer go over them
var packed = [];
[].concat(packedLeft, packedMiddle, packedRight).forEach(function(col) {
    for (var i = 0; i < col[1].length; i += 2) packed.push([col[0], col[1][i], col[1][i + 1]]);
});
var allPoints = [].concat(packed, lowerTail, upperLeft, midUpper, midBand, upperMid, topRight);

var width = 1795, height = 1188;
var left = 256.5, right = 1489, top_ = 20.5, bottom = 1021.5;

var svg = d3.select("body").append("svg")
    .attr("width", width)
    .attr("height", height);

// pale leftovers down the left edge of the scan
[[37, 388, "#eff7fb"], [459, 101, "#f8fbfd"], [560, 152, "#e9f2f9"], [712, 166, "#f3f8fc"]].forEach(function(s) {
    svg.append("rect").attr("x", 0).attr("y", s[0]).attr("width", 8).attr("height", s[1]).attr("fill", s[2]);
});

var x = d3.scaleLog().domain([1e-7, Math.pow(10, -0.36)]).range([left, right]);
var y = d3.scaleLog().domain([1e-12, Math.pow(10, -0.57)]).range([bottom, top_]);
var color = d3.scaleSequential(d3.interpolateViridis).domain([2, 5.015]);

svg.append("clipPath").attr("id", "plotClip")
    .append("rect")
    .attr("x", left).attr("y", top_)
    .attr("width", right - left).attr("height", bottom - top_);

svg.append("g").attr("clip-path", "url(#plotClip)")
    .selectAll("circle")
    .data(allPoints)
    .enter()
    .append("circle")
    .attr("cx", function(d) { return x(Math.pow(10, d[0])); })
    .attr("cy", function(d) { return y(Math.pow(10, d[1])); })
    .attr("r", 10)
    .attr("fill", function(d) { return color(d[2]); });

svg.append("rect")
    .attr("x", left).attr("y", top_)
    .attr("width", right - left).attr("height", bottom - top_)
    .attr("fill", "none").attr("stroke", "#000").attr("stroke-width", 3);

// 10 with a raised exponent
function powerLabel(sel, exp) {
    sel.text("10");
    sel.append("tspan").attr("dx", 2).attr("dy", -18).attr("font-size", 33).text("\u2212" + Math.abs(exp));
}

var minorTicks = [];
xDecades.forEach(function(e) {
    for (var m = 2; m <= 9; m++) minorTicks.push(m * Math.pow(10, e));
});
minorTicks = minorTicks.filter(function(v) { return v <= x.domain()[1]; });

svg.append("g").attr("transform", "translate(0," + bottom + ")")
    .call(d3.axisBottom(x).tickValues(minorTicks).tickSize(9).tickFormat(""))
    .call(function(g) { g.select(".domain").remove(); g.selectAll("line").attr("stroke-width", 2.3).attr("stroke", "#000"); });

var xAxis = svg.append("g").attr("transform", "translate(0," + bottom + ")")
    .call(d3.axisBottom(x).tickValues(xDecades.map(function(e) { return Math.pow(10, e); })).tickSize(15.6));
xAxis.select(".domain").remove();
xAxis.selectAll("line").attr("stroke-width", 3).attr("stroke", "#000");
xAxis.selectAll("text").each(function(d, i) {
    var t = d3.select(this);
    t.attr("y", 70).attr("dy", 0).attr("font-size", 45).attr("text-anchor", "middle").attr("fill", "#000");
    powerLabel(t, xDecades[i]);
});

var yAxis = svg.append("g").attr("transform", "translate(" + left + ",0)")
    .call(d3.axisLeft(y).tickValues(yDecades.map(function(e) { return Math.pow(10, e); })).tickSize(15.6));
yAxis.select(".domain").remove();
yAxis.selectAll("line").attr("stroke-width", 3).attr("stroke", "#000");
yAxis.selectAll("text").each(function(d, i) {
    var t = d3.select(this);
    t.attr("x", -35).attr("dy", 16).attr("font-size", 45).attr("text-anchor", "end").attr("fill", "#000");
    powerLabel(t, yDecades[i]);
});

svg.append("text")
    .attr("x", 875).attr("y", 1172)
    .attr("text-anchor", "middle").attr("font-size", 65)
    .text("Reciprocity");

svg.append("text")
    .attr("transform", "translate(65,521) rotate(-90)")
    .attr("text-anchor", "middle").attr("font-size", 64.5)
    .text("Biomass cycling (FCI)");

// colour bar
var cbLeft = 1565.5, cbRight = 1616.5;
var cbY = d3.scaleLinear().domain([2, 5.015]).range([bottom, top_]);
var grad = svg.append("defs").append("linearGradient")
    .attr("id", "viridisBar")
    .attr("x1", 0).attr("y1", 1).attr("x2", 0).attr("y2", 0);
d3.range(0, 1.001, 0.05).forEach(function(p) {
    grad.append("stop").attr("offset", p).attr("stop-color", d3.interpolateViridis(p));
});
svg.append("rect")
    .attr("x", cbLeft).attr("y", top_)
    .attr("width", cbRight - cbLeft).attr("height", bottom - top_)
    .attr("fill", "url(#viridisBar)")
    .attr("stroke", "#000").attr("stroke-width", 3);

var cAxis = svg.append("g").attr("transform", "translate(" + cbRight + ",0)")
    .call(d3.axisRight(cbY).tickValues(colorTicks).tickSize(15).tickFormat(d3.format(".1f")));
cAxis.select(".domain").remove();
cAxis.selectAll("line").attr("stroke-width", 3).attr("stroke", "#000");
cAxis.selectAll("text").attr("x", 33).attr("dy", "0.36em").attr("font-size", 45).attr("fill", "#000");

svg.append("text")
    .attr("transform", "translate(1773,519) rotate(-90)")
    .attr("text-anchor", "middle").attr("font-size", 47)
    .text("TrophicLevel");
</script>
</body>
</html>
